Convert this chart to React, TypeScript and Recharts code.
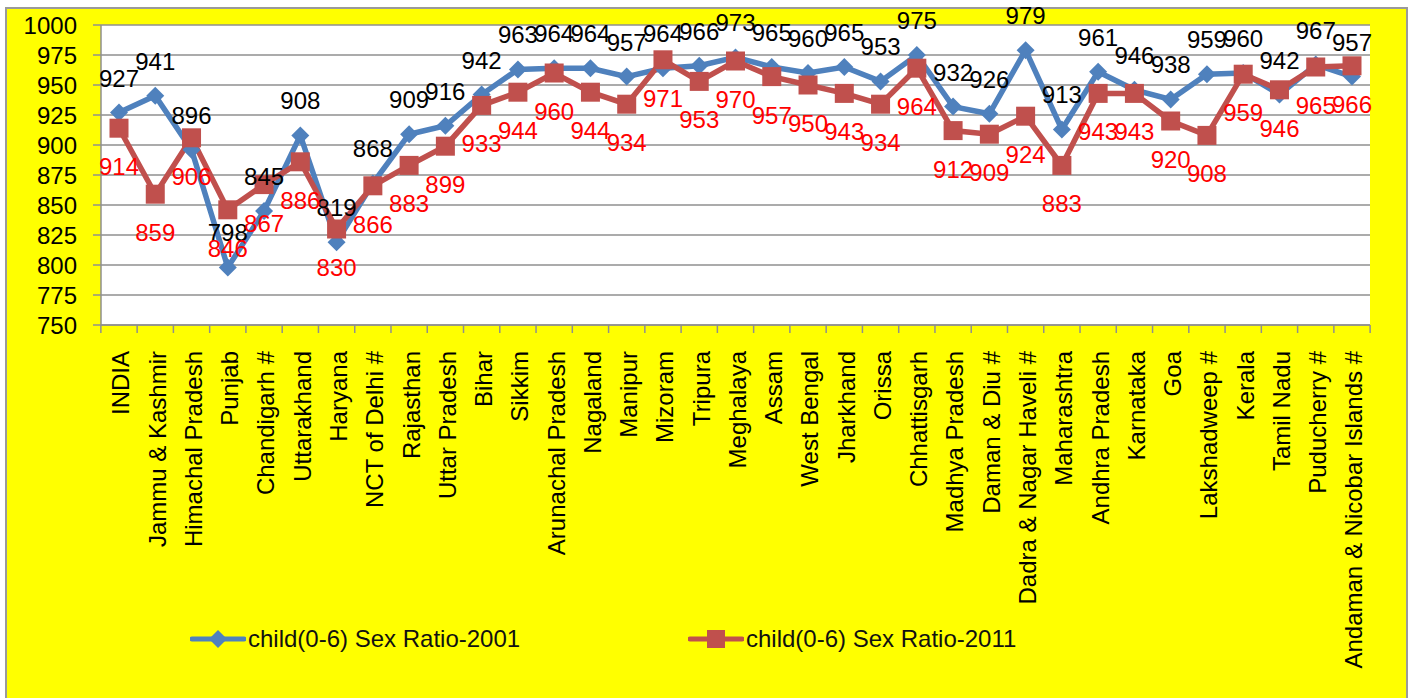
import React from 'react';
import {
  CartesianGrid,
  LabelList,
  Legend,
  Line,
  LineChart,
  XAxis,
  YAxis,
} from 'recharts';

const states = [
  'INDIA',
  'Jammu & Kashmir',
  'Himachal Pradesh',
  'Punjab',
  'Chandigarh #',
  'Uttarakhand',
  'Haryana',
  'NCT of Delhi #',
  'Rajasthan',
  'Uttar Pradesh',
  'Bihar',
  'Sikkim',
  'Arunachal Pradesh',
  'Nagaland',
  'Manipur',
  'Mizoram',
  'Tripura',
  'Meghalaya',
  'Assam',
  'West Bengal',
  'Jharkhand',
  'Orissa',
  'Chhattisgarh',
  'Madhya Pradesh',
  'Daman & Diu #',
  'Dadra & Nagar Haveli #',
  'Maharashtra',
  'Andhra Pradesh',
  'Karnataka',
  'Goa',
  'Lakshadweep #',
  'Kerala',
  'Tamil Nadu',
  'Puducherry #',
  'Andaman & Nicobar Islands #',
];

const ratio2001 = [
  927, 941, 896, 798, 845, 908, 819, 868, 909, 916, 942, 963, 964, 964, 957,
  964, 966, 973, 965, 960, 965, 953, 975, 932, 926, 979, 913, 961, 946, 938,
  959, 960, 942, 967, 957,
];

const ratio2011 = [
  914, 859, 906, 846, 867, 886, 830, 866, 883, 899, 933, 944, 960, 944, 934,
  971, 953, 970, 957, 950, 943, 934, 964, 912, 909, 924, 883, 943, 943, 920,
  908, 959, 946, 965, 966,
];

const yTicks = [750, 775, 800, 825, 850, 875, 900, 925, 950, 975, 1000];

const data = states.map((state, i) => ({
  state,
  r2001: ratio2001[i],
  r2011: ratio2011[i],
}));

const FONT = '"Liberation Sans", Arial, sans-serif';
const BLUE = '#4F81BD';
const RED = '#C0504D';
const GRID = '#8f8f8f';
const HALF_STEP = 18.13;

const Diamond = (props: any) => {
  const {cx, cy} = props;
  if (cx == null || cy == null) return null;
  const r = 9;
  return (
    <polygon
      points={`${cx},${cy - r} ${cx + r},${cy} ${cx},${cy + r} ${cx - r},${cy}`}
      fill={BLUE}
    />
  );
};

const Square = (props: any) => {
  const {cx, cy} = props;
  if (cx == null || cy == null) return null;
  const s = 19;
  return <rect x={cx - s / 2} y={cy - s / 2} width={s} height={s} fill={RED} />;
};

const AboveLabel = (props: any) => {
  const {x, y, value} = props;
  return (
    <text x={x} y={y - 26} textAnchor="middle" fontSize={24} fill="#000">
      {value}
    </text>
  );
};

const BelowLabel = (props: any) => {
  const {x, y, value} = props;
  return (
    <text x={x} y={y + 47} textAnchor="middle" fontSize={24} fill="#FF0000">
      {value}
    </text>
  );
};

const StateTick = (props: any) => {
  const {x, y, payload, index} = props;
  const axisY = y - 8;
  const ty = axisY + 26;
  return (
    <g>
      <line
        x1={x - HALF_STEP}
        x2={x - HALF_STEP}
        y1={axisY}
        y2={axisY + 8}
        stroke={GRID}
        strokeWidth={1.5}
      />
      {index === states.length - 1 && (
        <line
          x1={x + HALF_STEP}
          x2={x + HALF_STEP}
          y1={axisY}
          y2={axisY + 8}
          stroke={GRID}
          strokeWidth={1.5}
        />
      )}
      <text
        x={x + 2}
        y={ty}
        dy="0.35em"
        textAnchor="end"
        fontSize={24}
        fill="#000"
        transform={`rotate(-90, ${x + 2}, ${ty})`}
      >
        {payload.value}
      </text>
    </g>
  );
};

const LegendMark = ({color, diamond}: {color: string; diamond: boolean}) => (
  <svg width={56} height={24} style={{display: 'block'}}>
    <line x1={2} x2={54} y1={12} y2={12} stroke={color} strokeWidth={5} strokeLinecap="round" />
    {diamond ? (
      <polygon points="28,3 37,12 28,21 19,12" fill={color} />
    ) : (
      <rect x={19} y={3} width={18} height={18} fill={color} />
    )}
  </svg>
);

const renderLegend = () => (
  <div style={{position: 'relative', height: 30, fontFamily: FONT, fontSize: 24, color: '#111'}}>
    <div style={{position: 'absolute', left: 190, top: 3, display: 'flex', alignItems: 'center'}}>
      <LegendMark color={BLUE} diamond />
      <span style={{marginLeft: 2}}>child(0-6) Sex Ratio-2001</span>
    </div>
    <div style={{position: 'absolute', left: 688, top: 3, display: 'flex', alignItems: 'center'}}>
      <LegendMark color={RED} diamond={false} />
      <span style={{marginLeft: 2}}>child(0-6) Sex Ratio-2011</span>
    </div>
  </div>
);

export default function App() {
  return (
    <div style={{position: 'absolute', left: 0, top: 0, width: 1413, height: 698, overflow: 'hidden'}}>
      <div
        style={{
          position: 'absolute',
          left: 5,
          top: 7,
          width: 1403,
          height: 700,
          background: '#FFFF00',
          border: '2px solid #9a9a9a',
          boxSizing: 'border-box',
        }}
      />
      <div style={{position: 'absolute', left: 0, top: 0}}>
        <LineChart
          width={1413}
          height={698}
          data={data}
          margin={{top: 25, right: 43, bottom: 30, left: 41}}
          style={{fontFamily: FONT}}
        >
          <CartesianGrid
            vertical={false}
            stroke={GRID}
            strokeWidth={1.5}
            fill="#FFFFFF"
            fillOpacity={1}
          />
          <XAxis
            dataKey="state"
            interval={0}
            height={343}
            padding={{left: 18, right: 18}}
            tickLine={false}
            tickSize={8}
            tickMargin={0}
            axisLine={{stroke: GRID, strokeWidth: 1.5}}
            tick={<StateTick />}
          />
          <YAxis
            width={60}
            domain={[750, 1000]}
            ticks={yTicks}
            interval={0}
            tickSize={8}
            tickMargin={16}
            tickLine={{stroke: GRID, strokeWidth: 1.5}}
            axisLine={{stroke: GRID, strokeWidth: 1.5}}
            tick={{fill: '#000', fontSize: 24}}
          />
          <Legend
            layout="horizontal"
            verticalAlign="middle"
            align="center"
            content={renderLegend}
            wrapperStyle={{top: 622, left: 0, width: 1413}}
          />
          <Line
            type="linear"
            dataKey="r2001"
            name="child(0-6) Sex Ratio-2001"
            stroke={BLUE}
            strokeWidth={5.5}
            dot={<Diamond />}
            activeDot={false}
            isAnimationActive={false}
          >
            <LabelList dataKey="r2001" content={<AboveLabel />} />
          </Line>
          <Line
            type="linear"
            dataKey="r2011"
            name="child(0-6) Sex Ratio-2011"
            stroke={RED}
            strokeWidth={5.5}
            dot={<Square />}
            activeDot={false}
            isAnimationActive={false}
          >
            <LabelList dataKey="r2011" content={<BelowLabel />} />
          </Line>
        </LineChart>
      </div>
    </div>
  );
}
